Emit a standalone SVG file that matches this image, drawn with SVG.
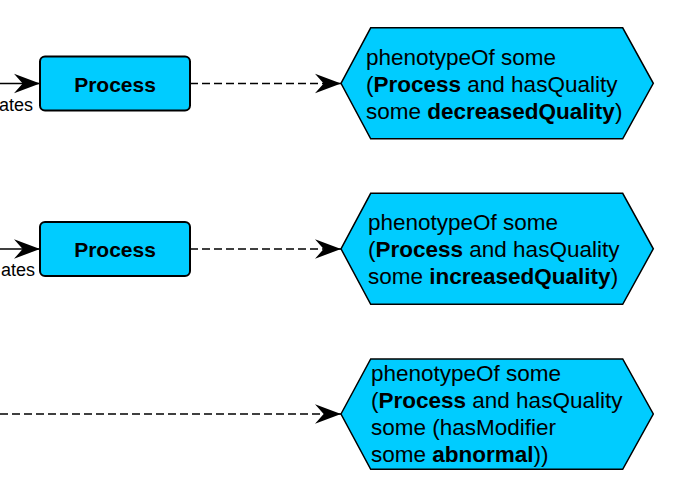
<svg xmlns="http://www.w3.org/2000/svg" width="680" height="500" viewBox="0 0 680 500">
<style>
.box{fill:#00ccff;stroke:#000;stroke-width:2}
.hex{fill:#00ccff;stroke:#000;stroke-width:1.5}
.t{font-family:"Liberation Sans",Arial,sans-serif;font-size:22.5px;fill:#000}
.b{font-weight:bold}
.pt{font-family:"Liberation Sans",Arial,sans-serif;font-size:21px;font-weight:bold;text-anchor:middle}
.lbl{font-family:"Liberation Sans",Arial,sans-serif;font-size:18px;text-anchor:end}
.solid{stroke:#000;stroke-width:1.5;fill:none}
.dash{stroke:#000;stroke-width:1.5;fill:none;stroke-dasharray:8 4}
</style>
<defs>
<marker id="arr" markerUnits="userSpaceOnUse" markerWidth="26" markerHeight="22" viewBox="0 0 24 20" refX="24" refY="10" orient="auto">
<path d="M24,10 L0,1 L8,10 L0,19 Z" fill="#000"/>
</marker>
</defs>
<g id="connectors">
<line class="solid" x1="0" y1="83.5" x2="40" y2="83.5" marker-end="url(#arr)"/>
<text class="lbl" x="33" y="111">ates</text>
<line class="dash" x1="190" y1="83.5" x2="341" y2="83.5" marker-end="url(#arr)"/>
<line class="solid" x1="0" y1="249" x2="40" y2="249" marker-end="url(#arr)"/>
<text class="lbl" x="35" y="276">ates</text>
<line class="dash" x1="190" y1="249" x2="341" y2="249" marker-end="url(#arr)"/>
<line class="dash" x1="0" y1="414" x2="341" y2="414" marker-end="url(#arr)"/>
</g>
<g id="process1">
<rect class="box" x="40" y="56.5" width="150" height="54" rx="5"/>
<text class="pt" x="115" y="91.5">Process</text>
</g>
<g id="process2">
<rect class="box" x="40" y="222" width="150" height="54" rx="5"/>
<text class="pt" x="115" y="257">Process</text>
</g>
<g id="phenotype1">
<polygon class="hex" points="341,83.3 370.7,27.8 622.7,27.8 653.3,83.3 622.7,138.8 370.7,138.8"/>
<text class="t" x="366" y="64.5">phenotypeOf some</text>
<text class="t" x="366" y="91.5">(<tspan class="b">Process</tspan> and hasQuality</text>
<text class="t" x="366" y="118.5">some <tspan class="b">decreasedQuality</tspan>)</text>
</g>
<g id="phenotype2">
<polygon class="hex" points="341,248.8 370.7,193.3 622.7,193.3 653.3,248.8 622.7,304.3 370.7,304.3"/>
<text class="t" x="368" y="229.5">phenotypeOf some</text>
<text class="t" x="368" y="256.5">(<tspan class="b">Process</tspan> and hasQuality</text>
<text class="t" x="368" y="283.5">some <tspan class="b">increasedQuality</tspan>)</text>
</g>
<g id="phenotype3">
<polygon class="hex" points="341,414 370.7,359 622.7,359 653.3,414 622.7,469.3 370.7,469.3"/>
<text class="t" x="371" y="381">phenotypeOf some</text>
<text class="t" x="371" y="408">(<tspan class="b">Process</tspan> and hasQuality</text>
<text class="t" x="371" y="435">some (hasModifier</text>
<text class="t" x="371" y="462">some <tspan class="b">abnormal</tspan>))</text>
</g>
</svg>
